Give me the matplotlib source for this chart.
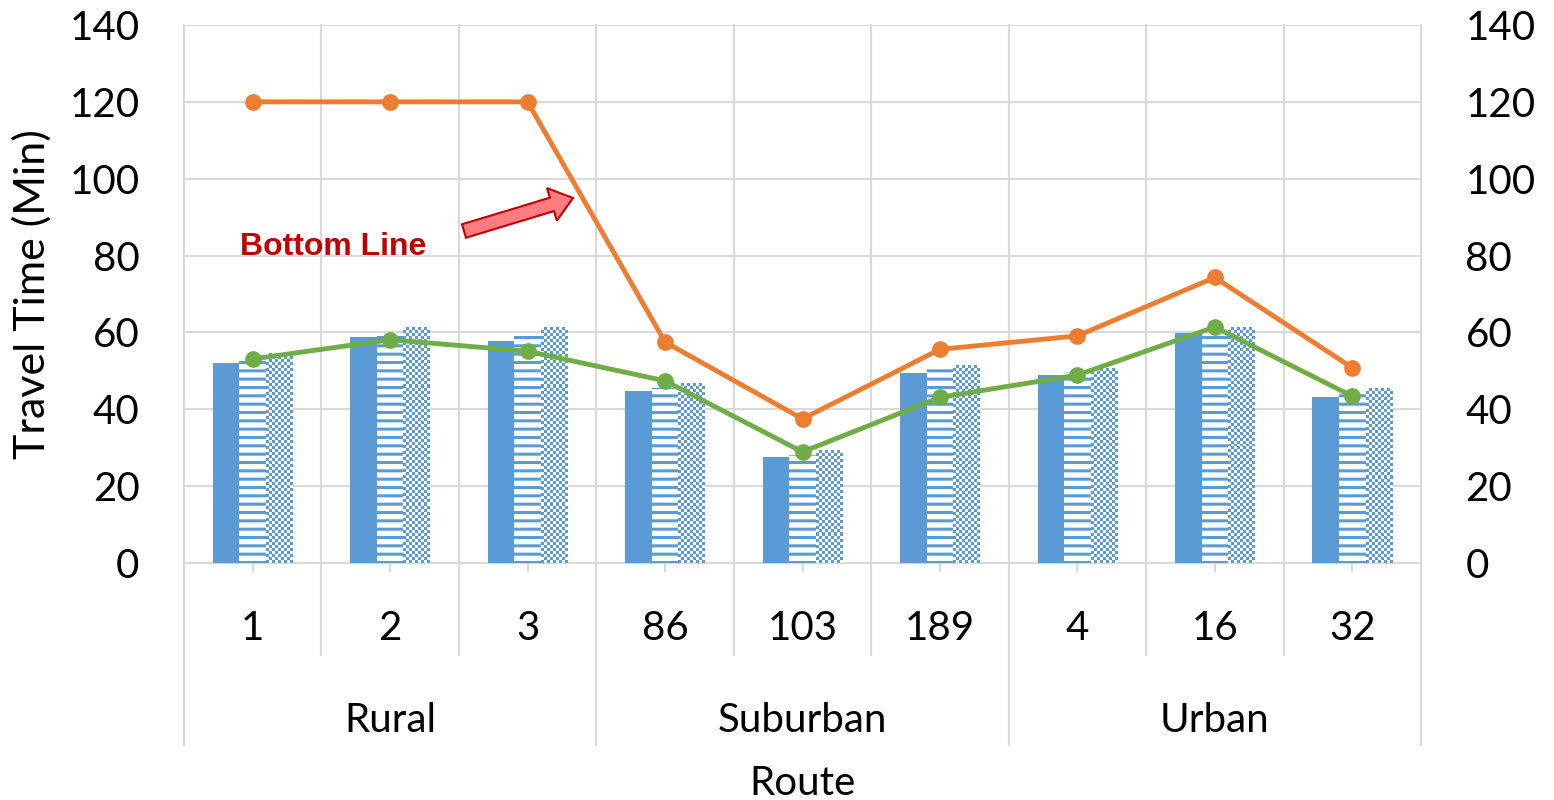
import numpy as np
import matplotlib
matplotlib.use("Agg")
import matplotlib.pyplot as plt
from matplotlib.colors import ListedColormap
from matplotlib.patches import FancyArrow
import matplotlib.transforms as mtransforms

# ---- data ----
routes = ["1", "2", "3", "86", "103", "189", "4", "16", "32"]
groups = ["Rural", "Suburban", "Urban"]
group_sizes = [3, 3, 3]
bar_solid = [52, 58.8, 57.8, 44.8, 27.7, 49.4, 48.9, 59.8, 43.3]
bar_striped = [52.8, 59.1, 59.0, 45.5, 28.1, 50.7, 49.7, 59.8, 44.4]
bar_dotted = [54.4, 61.2, 61.2, 46.8, 29.2, 51.5, 50.5, 61.3, 45.4]
line_orange = [120, 120, 120, 57.5, 37.5, 55.6, 59.1, 74.3, 50.8]
line_green = [53.1, 58.1, 55.1, 47.4, 28.9, 43.1, 48.9, 61.4, 43.4]
yticks = [0, 20, 40, 60, 80, 100, 120, 140]

BLUE = "#5b9bd5"
ORANGE = "#ed7d31"
GREEN = "#70ad47"
GRID = "#d9d9d9"
FONT = "Lato"

plt.rcParams["font.family"] = [FONT, "DejaVu Sans"]
plt.rcParams["hatch.linewidth"] = 2.2

fig = plt.figure(figsize=(15.54, 8.0), dpi=100)
ax = fig.add_axes([184 / 1554, 1 - 563 / 800, (1421 - 184) / 1554, (563 - 25) / 800])

n = len(routes)
x = np.arange(n)
w = 0.193

ax.set_xlim(-0.5, n - 0.5)
ax.set_ylim(0, 140)

# grid
for yv in yticks[1:]:
    ax.axhline(yv, color=GRID, lw=1.5, zorder=0)
ax.axhline(0, color=GRID, lw=1.5, zorder=1, clip_on=False)

trans = mtransforms.blended_transform_factory(ax.transData, ax.transAxes)
bounds = np.arange(n + 1) - 0.5
group_bounds = np.concatenate([[0], np.cumsum(group_sizes)]) - 0.5
for b in bounds:
    bottom = -0.338 if b in group_bounds else -0.171
    ax.plot([b, b], [1, bottom], color=GRID, lw=1.5, transform=trans, clip_on=False, zorder=0)
for xi in x:
    ax.plot([xi, xi], [0, -0.014], color=GRID, lw=1.5, transform=trans, clip_on=False, zorder=0)

# bars
ax.bar(x - w, bar_solid, w, color=BLUE, linewidth=0, zorder=2)
ax.bar(x, bar_striped, w, facecolor="white", edgecolor=BLUE, hatch="--", linewidth=0, zorder=2)

# dotted (checker) bars via image per bar
fig.canvas.draw()
cmap = ListedColormap(["white", BLUE])
px_per_unit = ax.transData.transform((0, 1))[1] - ax.transData.transform((0, 0))[1]
px_w = ax.transData.transform((w, 0))[0] - ax.transData.transform((0, 0))[0]
for xi, v in zip(x, bar_dotted):
    rows = max(1, int(round(v * px_per_unit / 3.0)))
    cols = max(1, int(round(px_w / 3.0)))
    arr = (np.add.outer(np.arange(rows), np.arange(cols)) % 2)
    ax.imshow(arr, cmap=cmap, extent=[xi + w / 2, xi + 1.5 * w, 0, v], aspect="auto",
              interpolation="nearest", zorder=2, vmin=0, vmax=1)
ax.set_xlim(-0.5, n - 0.5)
ax.set_ylim(0, 140)

# lines
ax.plot(x, line_orange, color=ORANGE, lw=3.5, marker="o", ms=11, zorder=4, clip_on=False)
ax.plot(x, line_green, color=GREEN, lw=3.5, marker="o", ms=11, zorder=4, clip_on=False)

# axes styling
for s in ax.spines.values():
    s.set_visible(False)
ax.set_yticks(yticks)
ax.tick_params(axis="y", length=0, labelsize=29, pad=32)
ax.set_xticks([])
ax.set_ylabel("Travel Time (Min)", fontsize=31, va="center")
ax.yaxis.set_label_coords(-0.1225, 0.5)

ax2 = ax.twinx()
ax2.set_ylim(0, 140)
ax2.set_yticks(yticks)
for s in ax2.spines.values():
    s.set_visible(False)
ax2.tick_params(axis="y", length=0, labelsize=29, pad=32)
ax2.set_xticks([])

# category labels
for xi, r in zip(x, routes):
    ax.text(xi, -0.122, r, transform=trans, ha="center", va="center", fontsize=29)
for i, g in enumerate(groups):
    c = (group_bounds[i] + group_bounds[i + 1]) / 2
    ax.text(c, -0.292, g, transform=trans, ha="center", va="center", fontsize=29)
ax.text(0.5, -0.409, "Route", transform=ax.transAxes, ha="center", va="center", fontsize=29)

# annotation
fig.text(240 / 1554, 1 - 247 / 800, "Bottom Line", color="#c00000", fontsize=23,
         fontweight="bold", family="Liberation Sans", ha="left", va="center")
arrow = FancyArrow(464, 800 - 231, 573 - 464, 231 - 198,
                   width=14, head_width=34, head_length=22, length_includes_head=True,
                   transform=None, facecolor="#ff7c80", edgecolor="#c00000", linewidth=1.5,
                   zorder=6)
fig.patches.append(arrow)
arrow.set_figure(fig)

fig.savefig("out.png", dpi=100)
